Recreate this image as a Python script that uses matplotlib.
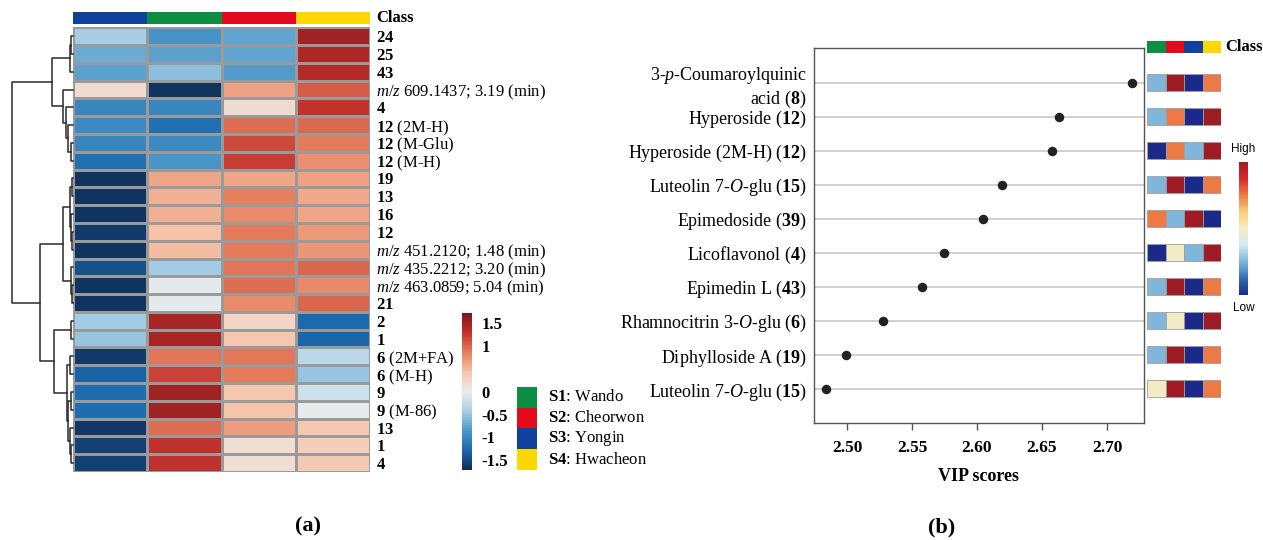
import numpy as np
import matplotlib
matplotlib.use('Agg')
import matplotlib.pyplot as plt
from matplotlib.colors import LinearSegmentedColormap, ListedColormap
from matplotlib.cm import ScalarMappable

plt.rcParams['font.family'] = 'Liberation Serif'
plt.rcParams['mathtext.fontset'] = 'custom'
plt.rcParams['mathtext.rm'] = 'Liberation Serif'
plt.rcParams['mathtext.it'] = 'Liberation Serif:italic'
plt.rcParams['mathtext.bf'] = 'Liberation Serif:bold'
plt.rcParams['axes.unicode_minus'] = False

# ---- data: panel (a) heatmap ----
class_order = ['S3', 'S1', 'S2', 'S4']
class_colors = {'S1': '#0c8f42', 'S2': '#e20a1b', 'S3': '#0f429c', 'S4': '#ffd700'}
class_names = {'S1': 'Wando', 'S2': 'Cheorwon', 'S3': 'Yongin', 'S4': 'Hwacheon'}

row_labels = [r'$\mathbf{24}$', r'$\mathbf{25}$', r'$\mathbf{43}$',
              r'$\mathit{m/z}$ 609.1437; 3.19 (min)', r'$\mathbf{4}$',
              r'$\mathbf{12}$ (2M-H)', r'$\mathbf{12}$ (M-Glu)', r'$\mathbf{12}$ (M-H)',
              r'$\mathbf{19}$', r'$\mathbf{13}$', r'$\mathbf{16}$', r'$\mathbf{12}$',
              r'$\mathit{m/z}$ 451.2120; 1.48 (min)', r'$\mathit{m/z}$ 435.2212; 3.20 (min)',
              r'$\mathit{m/z}$ 463.0859; 5.04 (min)', r'$\mathbf{21}$', r'$\mathbf{2}$',
              r'$\mathbf{1}$', r'$\mathbf{6}$ (2M+FA)', r'$\mathbf{6}$ (M-H)', r'$\mathbf{9}$',
              r'$\mathbf{9}$ (M-86)', r'$\mathbf{13}$', r'$\mathbf{1}$', r'$\mathbf{4}$']

s3_vals = [-0.43, -0.7, -0.78, 0.2, -1.02, -0.98, -1.02, -1.22, -1.65, -1.65, -1.65, -1.6, -1.65,
           -1.45, -1.65, -1.65, -0.45, -0.5, -1.6, -1.32, -1.25, -1.25, -1.62, -1.55, -1.55]
s1_vals = [-0.9, -0.78, -0.55, -1.65, -1.02, -1.22, -0.98, -0.88, 0.62, 0.55, 0.55, 0.43, 0.48,
           -0.45, -0.05, -0.05, 1.45, 1.45, 0.92, 1.2, 1.5, 1.5, 0.95, 1.3, 1.3]
s2_vals = [-0.75, -0.75, -0.82, 0.65, 0.18, 0.95, 1.15, 1.22, 0.62, 0.85, 0.78, 0.88, 0.88,
           0.92, 0.95, 0.78, 0.25, 0.4, 0.9, 0.88, 0.4, 0.42, 0.68, 0.15, 0.15]
s4_vals = [1.5, 1.42, 1.38, 1.05, 1.28, 0.98, 0.88, 0.75, 0.65, 0.6, 0.62, 0.7, 0.72,
           1.0, 0.8, 1.0, -1.28, -1.3, -0.3, -0.5, -0.2, -0.03, 0.38, 0.32, 0.38]

# row dendrogram: (height, left, right), leaves are row indices
tree = (10.0,
        (3.44, (0.5, (0.25, 0, 1), 2), (1.64, 3, (1.15, 4, (0.8, 5, (0.4, 6, 7))))),
        (5.4,
         (1.64, (0.5, (0.2, 8, 9), (0.3, 10, (0.15, 11, 12))), (0.4, 13, (0.2, 14, 15))),
         (3.1, (0.25, 16, 17),
          (1.0, (0.5, 18, 19), (0.75, (0.3, 20, 21), (0.5, 22, (0.3, 23, 24)))))))

cbar_ticks = [1.5, 1, 0, -0.5, -1, -1.5]
cbar_ticklabels = ['1.5', '1', '0', '-0.5', '-1', '-1.5']

# ---- data: panel (b) VIP ----
vip_names = ['3-$\\mathit{p}$-Coumaroylquinic\nacid ($\\mathbf{8}$)',
             r'Hyperoside ($\mathbf{12}$)',
             r'Hyperoside (2M-H) ($\mathbf{12}$)',
             r'Luteolin 7-$\mathit{O}$-glu ($\mathbf{15}$)',
             r'Epimedoside ($\mathbf{39}$)',
             r'Licoflavonol ($\mathbf{4}$)',
             r'Epimedin L ($\mathbf{43}$)',
             r'Rhamnocitrin 3-$\mathit{O}$-glu ($\mathbf{6}$)',
             r'Diphylloside A ($\mathbf{19}$)',
             r'Luteolin 7-$\mathit{O}$-glu ($\mathbf{15}$)']
vip_scores = [2.719, 2.663, 2.658, 2.619, 2.605, 2.575, 2.558, 2.528, 2.499, 2.484]
vip_ticks = [2.50, 2.55, 2.60, 2.65, 2.70]
# relative level in S1, S2, S3, S4 (0 = low ... 4 = high)
vip_s1 = [1, 1, 0, 1, 3, 0, 1, 1, 1, 2]
vip_s2 = [4, 3, 3, 4, 1, 2, 4, 2, 4, 4]
vip_s3 = [0, 0, 1, 0, 4, 1, 0, 0, 0, 0]
vip_s4 = [3, 4, 4, 3, 0, 4, 3, 4, 3, 3]

W, H = 1263, 540
fig = plt.figure(figsize=(W / 100, H / 100), dpi=100)

def box(x0, y0, x1, y1):
    return [x0 / W, 1 - y1 / H, (x1 - x0) / W, (y1 - y0) / H]

heat_cmap = LinearSegmentedColormap.from_list(
    'heat', ['#0f2b55', '#1b6aad', '#4d97c9', '#a7cfe5', '#ececec',
             '#f6c4aa', '#e6805f', '#c3332d', '#7d1419'])
vmin, vmax = -1.71, 1.71

# heatmap
ax = fig.add_axes(box(73, 27.3, 370, 472))
data = np.column_stack([s3_vals, s1_vals, s2_vals, s4_vals])
mesh = ax.pcolormesh(data, cmap=heat_cmap, vmin=vmin, vmax=vmax,
                     edgecolors='#9a9a9a', linewidth=0.8)
ax.set_ylim(len(row_labels), 0)
ax.set_xlim(0, 4)
ax.set_xticks([])
ax.yaxis.tick_right()
ax.set_yticks(np.arange(len(row_labels)) + 0.5)
ax.set_yticklabels(row_labels, fontsize=12)
ax.tick_params(axis='y', length=0, pad=4)
for s in ax.spines.values():
    s.set_visible(False)

# class bar
ax_c = fig.add_axes(box(73, 11.7, 370, 24.3))
ax_c.pcolormesh([[0, 1, 2, 3]], cmap=ListedColormap([class_colors[c] for c in class_order]),
                vmin=-0.5, vmax=3.5)
ax_c.set_xlim(0, 4)
ax_c.axis('off')
ax_c.text(4.08, 0.5, 'Class', fontsize=12, fontweight='bold', va='center', ha='left')

# dendrogram
ax_d = fig.add_axes(box(12.3, 27.3, 73, 472))
ax_d.set_xlim(10, 0)
ax_d.set_ylim(len(row_labels), 0)
ax_d.axis('off')

def draw_tree(node):
    if isinstance(node, int):
        return 0.0, node + 0.5
    h, left, right = node
    hl, yl = draw_tree(left)
    hr, yr = draw_tree(right)
    ax_d.plot([hl, h, h, hr], [yl, yl, yr, yr], color='#2a2a2a', lw=1.1, clip_on=False)
    return h, (yl + yr) / 2

draw_tree(tree)

# colorbar (a)
cax = fig.add_axes(box(461.7, 313.3, 471.7, 470))
cb = fig.colorbar(mesh, cax=cax, ticks=cbar_ticks)
cb.set_ticklabels(cbar_ticklabels)
cb.outline.set_visible(False)
cax.tick_params(length=0, pad=7)
for t in cax.get_yticklabels():
    t.set_fontweight('bold')
    t.set_fontsize(12)

# class legend
ax_l = fig.add_axes(box(516.7, 386.7, 536.7, 470))
leg_classes = ['S1', 'S2', 'S3', 'S4']
ax_l.barh(np.arange(4), 1, height=1, color=[class_colors[c] for c in leg_classes])
ax_l.set_xlim(0, 1)
ax_l.set_ylim(3.5, -0.5)
ax_l.axis('off')
for i, c in enumerate(leg_classes):
    ax_l.text(1.55, i, r'$\mathbf{%s}$: %s' % (c, class_names[c]), fontsize=12,
              va='center', ha='left', clip_on=False)

fig.text(308 / W, 1 - 526 / H, '(a)', fontsize=16, fontweight='bold', ha='center', va='center')
fig.text(942 / W, 1 - 527 / H, '(b)', fontsize=16, fontweight='bold', ha='center', va='center')

# ---- panel (b) ----
yb = np.arange(len(vip_names))
ax_b = fig.add_axes(box(814, 48.3, 1144, 423))
ax_b.set_xlim(2.4746, 2.7285)
ax_b.set_ylim(10.0, -1.01)
ax_b.set_yticks(yb)
ax_b.set_yticklabels(vip_names, fontsize=13)
ax_b.yaxis.grid(True, color='#c4c4c4', lw=1.1)
ax_b.set_axisbelow(True)
ax_b.scatter(vip_scores, yb, s=34, color='#222222', zorder=3)
ax_b.set_xticks(vip_ticks)
ax_b.set_xticklabels(['%.2f' % v for v in vip_ticks], fontsize=12.5, fontweight='bold')
ax_b.tick_params(axis='y', length=0, pad=5)
ax_b.tick_params(axis='x', length=5, width=1, color='#555555', pad=7)
ax_b.set_xlabel('VIP scores', fontsize=13, fontweight='bold', labelpad=9)
for s in ax_b.spines.values():
    s.set_color('#555555')
    s.set_linewidth(1.0)

vip_cmap = LinearSegmentedColormap.from_list(
    'vip', list(zip([0, 0.12, 0.25, 0.38, 0.5, 0.62, 0.75, 0.88, 1.0],
                    ['#1b2a8a', '#2f6db3', '#7fb6da', '#d5ebf3', '#f1ecc4',
                     '#fad27a', '#ee7b45', '#d7262a', '#a01c24'])))

ax_s = fig.add_axes(box(1147, 48.3, 1221, 423))
ax_s.set_xlim(0, 4)
ax_s.set_ylim(10.0, -1.01)
ax_s.axis('off')
for j, lv in enumerate([vip_s1, vip_s2, vip_s3, vip_s4]):
    ax_s.barh(yb, 1, left=j, height=0.5, color=vip_cmap(np.array(lv) / 4),
              edgecolor='#a0a0a0', linewidth=0.6)
    ax_s.barh(-1.04, 1, left=j, height=0.36, color=class_colors[leg_classes[j]], clip_on=False)
ax_s.text(4.25, -1.04, 'Class', fontsize=12, fontweight='bold', va='center', ha='left')

cax2 = fig.add_axes(box(1239, 162, 1248, 295))
cb2 = fig.colorbar(ScalarMappable(cmap=vip_cmap), cax=cax2, ticks=[])
cb2.outline.set_visible(False)
fig.text(1243.5 / W, 1 - 149 / H, 'High', fontsize=8.5, family='Liberation Sans',
         ha='center', va='center')
fig.text(1243.5 / W, 1 - 308 / H, 'Low', fontsize=8.5, family='Liberation Sans',
         ha='center', va='center')

fig.savefig('out.png', dpi=100)
